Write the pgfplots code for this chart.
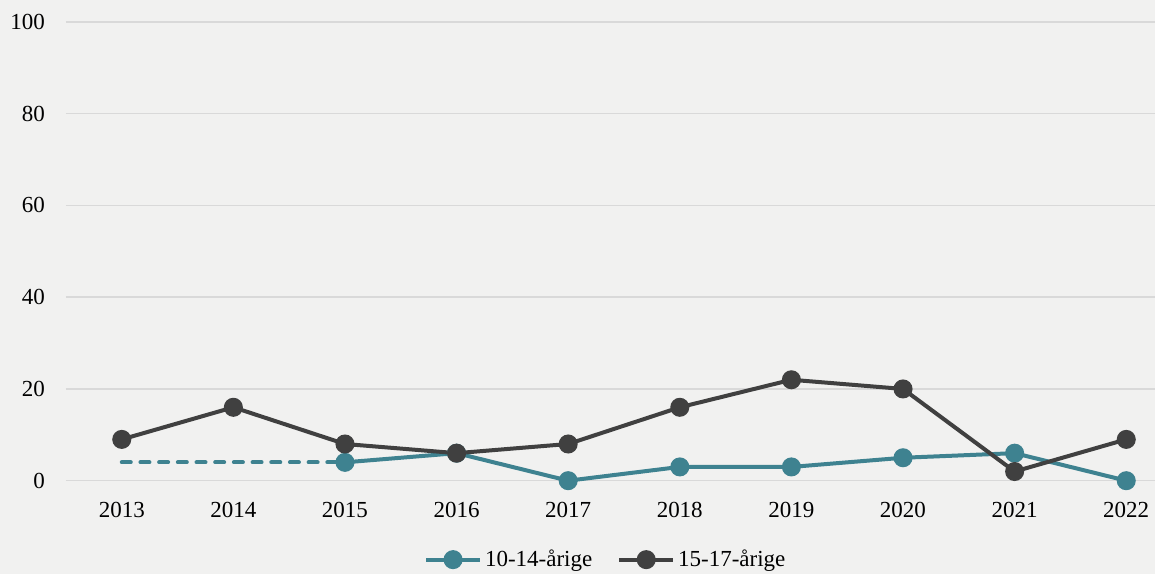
\documentclass[border=0pt]{standalone}
\usepackage{fontspec}
\setmainfont{Liberation Serif}
\usepackage{pgfplots}
\pgfplotsset{compat=1.18}
\definecolor{bgc}{HTML}{F1F1F0}
\definecolor{tealc}{HTML}{3E8290}
\definecolor{darkc}{HTML}{404040}
\definecolor{gridc}{HTML}{D9D9D9}
\begin{document}
\fontsize{23}{27}\selectfont
\begin{tikzpicture}[x=1pt,y=1pt]
\fill[bgc] (-66,-93) rectangle (1090,481);
\begin{axis}[at={(0,0)}, anchor=south west, scale only axis, width=1090pt, height=459pt,
 xmin=2012.5, xmax=2022.26, ymin=0, ymax=100,
 ytick={0,20,...,100}, xtick={2013,...,2022},
 axis line style={draw=none}, major tick length=0pt,
 ymajorgrids, grid style={gridc, line width=1.5pt},
 /pgf/number format/assume math mode=true,
 xticklabel style={/pgf/number format/1000 sep={}, inner sep=0pt, anchor=north, yshift=-21.5pt},
 yticklabel style={inner sep=0pt, anchor=east, xshift=-21pt},
 ticklabel style={font=\fontsize{23}{27}\selectfont},
 clip=false,
 legend style={at={(0.496,0)}, anchor=center, yshift=-79pt, draw=none, fill=none,
   font=\fontsize{23}{27}\selectfont, legend columns=-1,
   /tikz/every even column/.append style={column sep=22pt},
   nodes={inner sep=3pt}},
 legend image code/.code={\draw[mark repeat=2,mark phase=2,#1] plot coordinates {(0pt,0pt) (27pt,0pt) (54pt,0pt)};},
]
\addplot[tealc, line width=4pt, dash pattern=on 9pt off 9.7pt, line cap=round, forget plot] coordinates {(2013,4) (2015,4)};
\addplot[tealc, line width=4pt, mark=*, mark size=7.5pt, mark options={solid}] coordinates {
(2015,4) (2016,6) (2017,0) (2018,3) (2019,3) (2020,5) (2021,6) (2022,0)};
\addlegendentry{10-14-årige}
\addplot[darkc, line width=4pt, mark=*, mark size=7.5pt] coordinates {
(2013,9) (2014,16) (2015,8) (2016,6) (2017,8) (2018,16) (2019,22) (2020,20) (2021,2) (2022,9)};
\addlegendentry{15-17-årige}
\end{axis}
\end{tikzpicture}
\end{document}
